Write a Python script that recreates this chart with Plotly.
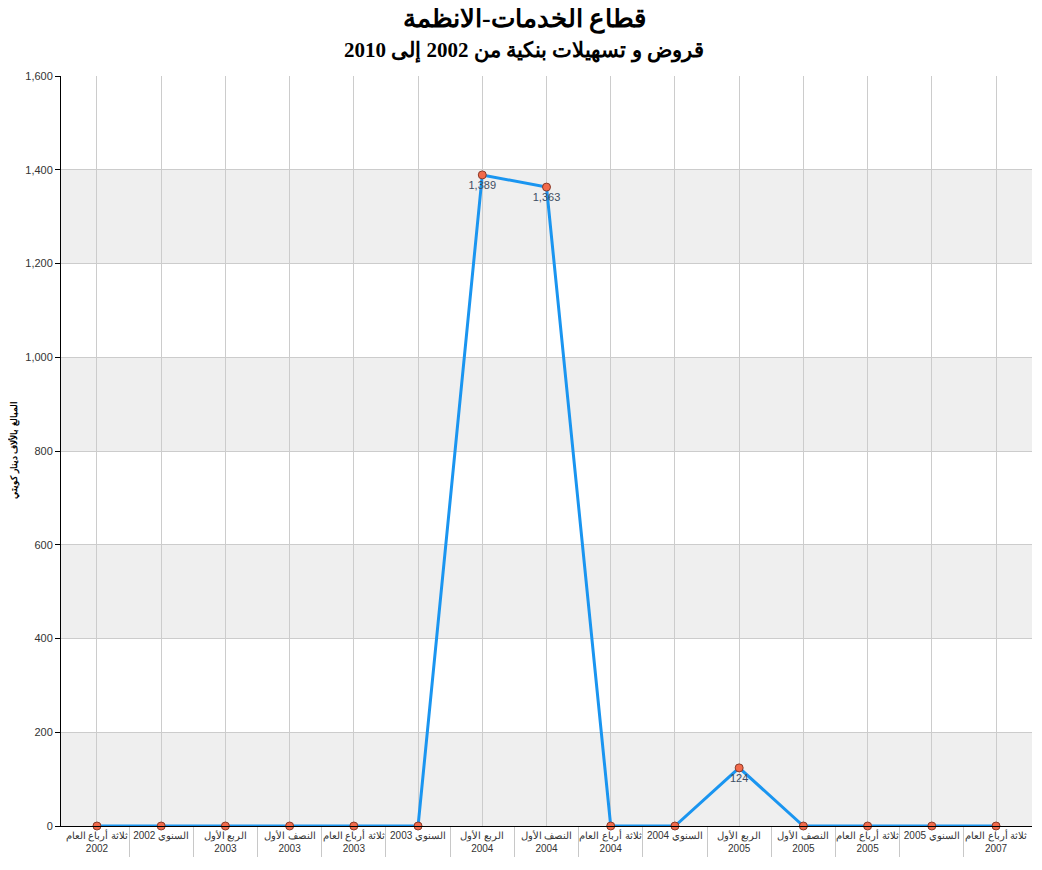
import plotly.graph_objects as go

categories = [
    "ثلاثة أرباع العام<br>2002",
    "السنوي 2002",
    "الربع الأول<br>2003",
    "النصف الأول<br>2003",
    "ثلاثة أرباع العام<br>2003",
    "السنوي 2003",
    "الربع الأول<br>2004",
    "النصف الأول<br>2004",
    "ثلاثة أرباع العام<br>2004",
    "السنوي 2004",
    "الربع الأول<br>2005",
    "النصف الأول<br>2005",
    "ثلاثة أرباع العام<br>2005",
    "السنوي 2005",
    "ثلاثة أرباع العام<br>2007",
]
values = [0, 0, 0, 0, 0, 0, 1389, 1363, 0, 0, 124, 0, 0, 0, 0]
y_ticks = [0, 200, 400, 600, 800, 1000, 1200, 1400, 1600]

title = "قطاع الخدمات-الأنظمة"
subtitle = "قروض و تسهيلات بنكية من 2002 إلى 2010"
y_title = "المبالغ بالألاف دينار كويتي"

# the page body adds an 8px offset; target screen positions are compensated
OFF = 8
W, H = 1042, 870
ML, MT = 61 - OFF, 76 - OFF
MR = W - (1032 - OFF)
MB = H - (826 - OFF)
PW, PH = W - ML - MR, H - MT - MB

def py(p):  # screen pixel y -> paper
    return (H - MB - (p - OFF)) / PH

def px(p):  # screen pixel x -> paper
    return ((p - OFF) - ML) / PW

x = list(range(len(categories)))
labels = [f"{v:,}" if v else "" for v in values]

fig = go.Figure()
fig.add_trace(go.Scatter(
    x=x, y=values, mode="lines+markers+text",
    line=dict(color="#1a95f0", width=3),
    marker=dict(color="#f26a4b", size=8, line=dict(color="#8a3a28", width=1)),
    text=labels, textposition="bottom center",
    textfont=dict(family="Arial, Liberation Sans", size=11, color="#3d4d63"),
    cliponaxis=False, showlegend=False, hoverinfo="x+y",
))

# alternating horizontal bands
for i in range(0, len(y_ticks) - 1, 2):
    fig.add_shape(type="rect", xref="paper", yref="y", x0=0, x1=1,
                  y0=y_ticks[i], y1=y_ticks[i + 1], fillcolor="#efefef",
                  line=dict(width=0), layer="below")

serif = "Liberation Serif, Times New Roman, serif"
fig.add_annotation(text=f"<b>{title}</b>", xref="paper", yref="paper",
                   x=px(524), y=py(17), showarrow=False,
                   xanchor="center", yanchor="middle",
                   font=dict(family=serif, size=26, color="black"))
fig.add_annotation(text=f"<b>{subtitle}</b>", xref="paper", yref="paper",
                   x=px(524), y=py(51), showarrow=False,
                   xanchor="center", yanchor="middle",
                   font=dict(family=serif, size=21, color="black"))
fig.add_annotation(text=f"<b>{y_title}</b>", xref="paper", yref="paper",
                   x=px(14), y=py(450), showarrow=False, textangle=-90,
                   xanchor="center", yanchor="middle",
                   font=dict(family="Arial, Liberation Sans", size=9, color="black"))

fig.update_layout(
    width=W, height=H,
    paper_bgcolor="white", plot_bgcolor="white",
    margin=dict(l=ML, r=MR, t=MT, b=MB, autoexpand=False),
    font=dict(family="Arial, Liberation Sans, sans-serif", color="#333"),
)
fig.update_xaxes(
    range=[-0.56, len(categories) - 0.44],
    tickmode="array", tickvals=x, ticktext=categories,
    tickfont=dict(size=10, color="#333"),
    showgrid=True, gridcolor="#cccccc", gridwidth=1,
    showline=True, linecolor="black", linewidth=1,
    ticks="", zeroline=False, automargin=False,
    minor=dict(tickmode="array", tickvals=[i - 0.5 for i in range(1, len(categories))],
               ticks="outside", ticklen=30, tickcolor="#c8c8c8", tickwidth=1, showgrid=False),
)
fig.update_yaxes(
    range=[0, 1600], tickmode="array", tickvals=y_ticks,
    tickformat=",", tickfont=dict(size=11, color="#333"),
    showgrid=True, gridcolor="#cccccc", gridwidth=1,
    showline=True, linecolor="black", linewidth=1,
    ticks="outside", ticklen=5, tickcolor="black",
    zeroline=False, automargin=False,
)

fig.write_html("out.html")
